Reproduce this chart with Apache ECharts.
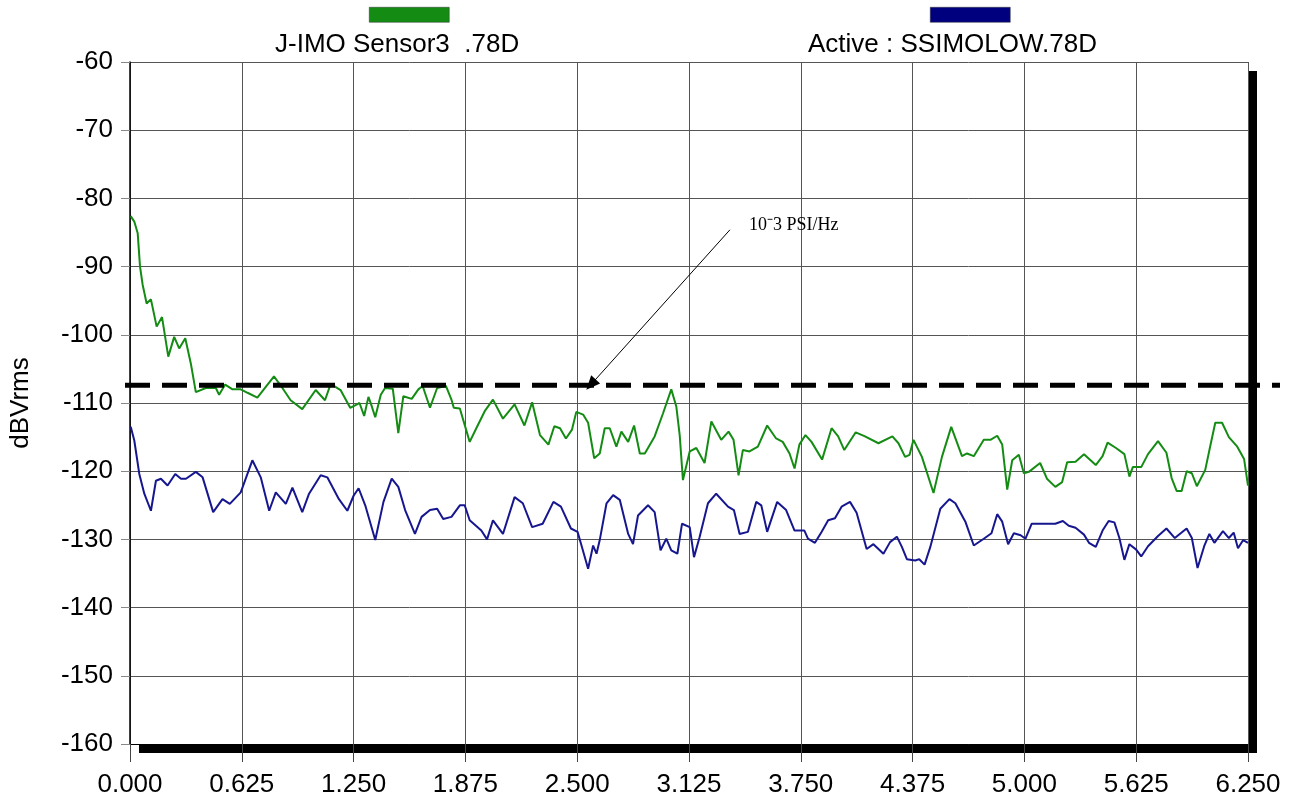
<!DOCTYPE html>
<html>
<head>
<meta charset="utf-8">
<script src="https://cdn.jsdelivr.net/npm/echarts@6/dist/echarts.min.js"></script>
<style>
html,body{margin:0;padding:0;background:#fff;}
#chart{width:1294px;height:803px;}
</style>
</head>
<body>
<div id="chart"></div>
<script>
// ---- data ----
const xTickLabels = ['0.000','0.625','1.250','1.875','2.500','3.125','3.750','4.375','5.000','5.625','6.250'];
const seriesNames = ['J-IMO Sensor3  .78D', 'Active : SSIMOLOW.78D'];

const greenFreq = [0.004,0.024,0.043,0.056,0.071,0.093,0.117,0.149,0.179,0.214,0.247,0.275,0.309,0.340,0.368,0.424,0.480,0.498,0.532,0.573,0.619,0.657,0.712,0.805,0.852,0.898,0.963,1.038,1.090,1.122,1.177,
1.231,1.269,1.283,1.309,1.333,1.348,1.371,1.402,1.426,1.469,1.500,1.528,1.575,1.612,1.636,1.677,1.717,1.766,1.797,1.810,1.844,1.899,1.936,1.983,2.029,2.085,2.150,2.205,2.248,2.292,2.339,2.372,2.404,2.437,2.471,
2.495,2.533,2.561,2.595,2.626,2.654,2.682,2.719,2.747,2.785,2.818,2.850,2.878,2.933,2.980,3.026,3.054,3.073,3.091,3.129,3.166,3.212,3.250,3.305,3.346,3.374,3.402,3.426,3.463,3.510,3.562,3.612,3.649,3.687,3.715,3.742,
3.776,3.810,3.869,3.922,3.959,3.993,4.057,4.109,4.184,4.262,4.296,4.333,4.358,4.380,4.427,4.492,4.539,4.591,4.651,4.679,4.717,4.773,4.810,4.848,4.876,4.904,4.932,4.969,4.997,5.025,
5.088,5.126,5.173,5.211,5.239,5.286,5.333,5.399,5.437,5.465,5.512,5.559,5.587,5.606,5.653,5.691,5.747,5.794,5.823,5.851,5.879,5.907,5.936,5.964,6.011,6.039,6.067,6.105,6.143,6.190,6.228,6.250];
const greenLevel = [-82.6,-83.4,-85.1,-90.0,-92.7,-95.4,-94.8,-98.8,-97.4,-103.2,-100.3,-102.0,-100.5,-104.2,-108.4,-107.8,-107.8,-108.8,-107.3,-108.0,-108.0,-108.5,-109.2,-106.1,-107.8,-109.6,-110.9,-108.1,-109.6,-107.2,-108.1,
-110.7,-110.2,-110.0,-111.9,-109.1,-110.2,-112.1,-108.8,-107.8,-107.9,-114.4,-109.0,-109.4,-108.0,-107.5,-110.7,-107.8,-107.5,-109.5,-110.7,-110.8,-115.7,-113.7,-111.2,-109.5,-112.3,-110.2,-113.3,-109.9,-114.7,-116.1,-113.4,-113.7,-115.2,-113.9,
-111.3,-111.7,-112.9,-118.1,-117.4,-113.7,-113.7,-116.4,-114.2,-115.7,-113.3,-117.4,-117.4,-114.9,-111.5,-108.0,-110.5,-114.7,-121.3,-117.1,-116.6,-118.8,-112.7,-115.4,-114.2,-115.4,-120.6,-116.9,-117.1,-116.4,-113.3,-115.2,-115.7,-117.4,-119.6,-116.1,
-114.7,-115.7,-118.3,-113.7,-114.9,-116.9,-114.3,-114.9,-115.9,-114.9,-115.9,-117.9,-117.6,-115.4,-117.9,-123.2,-117.9,-113.5,-117.8,-117.4,-117.8,-115.4,-115.4,-114.8,-116.1,-122.7,-118.4,-117.6,-120.3,-120.1,
-118.8,-121.1,-122.3,-121.6,-118.7,-118.6,-117.5,-119.1,-117.8,-115.8,-116.6,-117.5,-120.8,-119.4,-119.4,-117.5,-115.6,-117.3,-121.0,-122.9,-122.9,-120.0,-120.3,-122.2,-119.8,-116.3,-112.9,-112.9,-115.0,-116.4,-118.2,-122.1];

const blueFreq = [0.004,0.024,0.052,0.080,0.117,0.145,0.173,0.210,0.253,0.285,0.313,0.368,0.406,0.465,0.517,0.558,0.619,0.684,0.731,0.778,0.815,0.871,0.908,0.963,1.001,1.066,1.103,1.168,1.215,1.250,1.278,
1.315,1.371,1.417,1.463,1.500,1.538,1.593,1.630,1.677,1.717,1.751,1.797,1.844,1.871,1.899,1.964,1.996,2.029,2.085,2.150,2.196,2.248,2.307,2.367,2.409,2.465,2.502,
2.524,2.561,2.589,2.608,2.626,2.664,2.701,2.738,2.785,2.812,2.840,2.896,2.933,2.966,2.998,3.026,3.060,3.086,3.129,3.153,3.184,3.231,3.277,3.343,3.376,3.408,3.454,3.501,3.529,3.562,3.618,3.668,3.715,3.770,
3.790,3.829,3.866,3.903,3.941,3.978,4.025,4.062,4.118,4.156,4.212,4.249,4.287,4.315,4.343,4.390,4.412,4.442,4.474,4.530,4.581,4.614,4.670,4.717,4.773,4.816,4.848,4.876,4.909,4.941,4.979,5.006,
5.041,5.098,5.173,5.215,5.248,5.286,5.333,5.361,5.399,5.437,5.471,5.503,5.531,5.559,5.587,5.625,5.653,5.691,5.747,5.794,5.841,5.879,5.907,5.936,5.968,6.005,6.034,6.062,6.110,6.143,6.170,6.194,6.223,6.250];
const blueLevel = [-113.5,-115.5,-120.4,-123.3,-125.8,-121.4,-121.1,-122.1,-120.4,-121.1,-121.1,-120.1,-120.9,-126.0,-124.1,-124.8,-123.1,-118.4,-120.9,-125.8,-123.1,-124.8,-122.4,-126.0,-123.3,-120.6,-120.9,-124.1,-125.8,-123.6,-122.5,
-125.0,-130.1,-124.5,-121.1,-122.3,-125.7,-129.2,-126.7,-125.7,-125.5,-127.0,-126.7,-125.0,-125.0,-127.2,-128.7,-130.0,-127.2,-129.2,-123.8,-124.7,-128.2,-127.7,-124.5,-125.2,-128.4,-128.9,
-130.9,-134.3,-130.9,-132.1,-130.1,-124.7,-123.5,-124.2,-129.2,-130.7,-126.5,-125.0,-126.0,-131.6,-129.9,-131.6,-132.1,-127.7,-128.2,-132.6,-129.7,-124.7,-123.3,-125.2,-125.7,-129.2,-128.9,-124.5,-125.0,-128.9,-124.5,-125.7,-128.7,-128.7,
-129.9,-130.5,-128.9,-127.2,-126.9,-125.2,-124.5,-126.1,-131.4,-130.7,-132.1,-130.4,-129.6,-131.1,-132.9,-133.1,-132.9,-133.7,-131.1,-125.5,-124.1,-124.7,-127.4,-130.9,-129.9,-129.1,-126.3,-127.4,-130.7,-129.1,-129.4,-129.9,
-127.7,-127.7,-127.7,-127.3,-128.0,-128.3,-129.3,-130.5,-131.1,-128.7,-127.3,-127.5,-129.8,-133.0,-130.7,-131.5,-132.5,-131.0,-129.5,-128.4,-129.8,-129.0,-128.4,-129.8,-134.2,-131.0,-129.2,-130.5,-128.8,-129.8,-129.0,-131.3,-130.1,-130.5];

const refLevel = -107.4;                 // dashed 10^-3 PSI/Hz line
const annotText = '10\u207B3 PSI/Hz';
const arrowFrom = [3.354, -84.6];
const arrowTo = [2.577, -107.3];
const annotAt = [3.46, -83.9];

// ---- build ----
const zip = (a, b) => a.map((v, i) => [v, b[i]]);
const GREEN = '#148c14', BLUE = '#16168f';
const FONT = "'Liberation Sans', Arial, sans-serif";

const chart = echarts.init(document.getElementById('chart'), null, {renderer: 'canvas'});
chart.setOption({
  animation: false,
  backgroundColor: '#fff',
  grid: [
    {left: 130, right: 46, top: 62, bottom: 59, show: true, backgroundColor: '#fff', borderWidth: 0,
     shadowColor: '#000', shadowBlur: 0, shadowOffsetX: 9, shadowOffsetY: 9},
    {left: 125, right: 14, top: 62, bottom: 59}
  ],
  xAxis: [
    {type: 'value', gridIndex: 0, min: 0, max: 6.25, interval: 0.625,
     axisLine: {show: true, lineStyle: {color: '#000', width: 1}},
     axisTick: {show: true, length: 18, lineStyle: {color: '#444'}},
     axisLabel: {color: '#000', fontSize: 26, fontFamily: FONT, margin: 28,
       formatter: (v) => xTickLabels[Math.round(v / 0.625)] || ''},
     splitLine: {show: true, lineStyle: {color: '#555', width: 1}}},
    {type: 'value', gridIndex: 1, min: 0, max: 1, show: false}
  ],
  yAxis: [
    {type: 'value', gridIndex: 0, min: -160, max: -60, interval: 10,
     name: 'dBVrms', nameLocation: 'middle', nameGap: 96,
     nameTextStyle: {color: '#000', fontSize: 26, fontFamily: FONT},
     axisLine: {show: true, lineStyle: {color: '#000', width: 1.5}},
     axisTick: {show: true, length: 9, lineStyle: {color: '#888'}},
     axisLabel: {color: '#000', fontSize: 26, fontFamily: FONT, margin: 17},
     splitLine: {show: true, lineStyle: {color: '#555', width: 1}}},
    {type: 'value', gridIndex: 1, min: -160, max: -60, show: false}
  ],
  series: [
    {name: seriesNames[0], type: 'line', xAxisIndex: 0, yAxisIndex: 0, data: zip(greenFreq, greenLevel),
     showSymbol: false, symbol: 'none', lineStyle: {color: GREEN, width: 2}, z: 3,
     markLine: {silent: true, symbol: ['none', 'triangle'], symbolSize: [12, 14],
       lineStyle: {color: '#000', width: 1, type: 'solid'}, label: {show: false},
       data: [[{coord: arrowFrom}, {coord: arrowTo}]]},
     markPoint: {silent: true, symbol: 'circle', symbolSize: 0,
       label: {show: true, position: 'right', distance: 0, formatter: annotText,
         color: '#000', fontSize: 18, fontFamily: "'Liberation Serif', 'Times New Roman', serif"},
       data: [{coord: annotAt}]}},
    {name: seriesNames[1], type: 'line', xAxisIndex: 0, yAxisIndex: 0, data: zip(blueFreq, blueLevel),
     showSymbol: false, symbol: 'none', lineStyle: {color: BLUE, width: 2}, z: 3},
    {name: 'ref', type: 'line', xAxisIndex: 1, yAxisIndex: 1, data: [[0, refLevel], [1, refLevel]],
     showSymbol: false, symbol: 'none', lineStyle: {color: '#000', width: 5, type: [25, 12]}, z: 4}
  ],
  graphic: [
    {type: 'rect', left: 369, top: 7, shape: {width: 80, height: 15}, style: {fill: GREEN, stroke: '#333', lineWidth: 0.5}},
    {type: 'text', left: 'center', x: 0, style: {text: ''}},
    {type: 'text', left: 275, top: 32, style: {text: seriesNames[0], fill: '#000', font: "26px 'Liberation Sans', Arial, sans-serif"}},
    {type: 'rect', left: 930, top: 7, shape: {width: 80, height: 15}, style: {fill: '#00007f', stroke: '#333', lineWidth: 0.5}},
    {type: 'text', left: 808, top: 32, style: {text: seriesNames[1], fill: '#000', font: "26px 'Liberation Sans', Arial, sans-serif"}}
  ]
});
</script>
</body>
</html>
